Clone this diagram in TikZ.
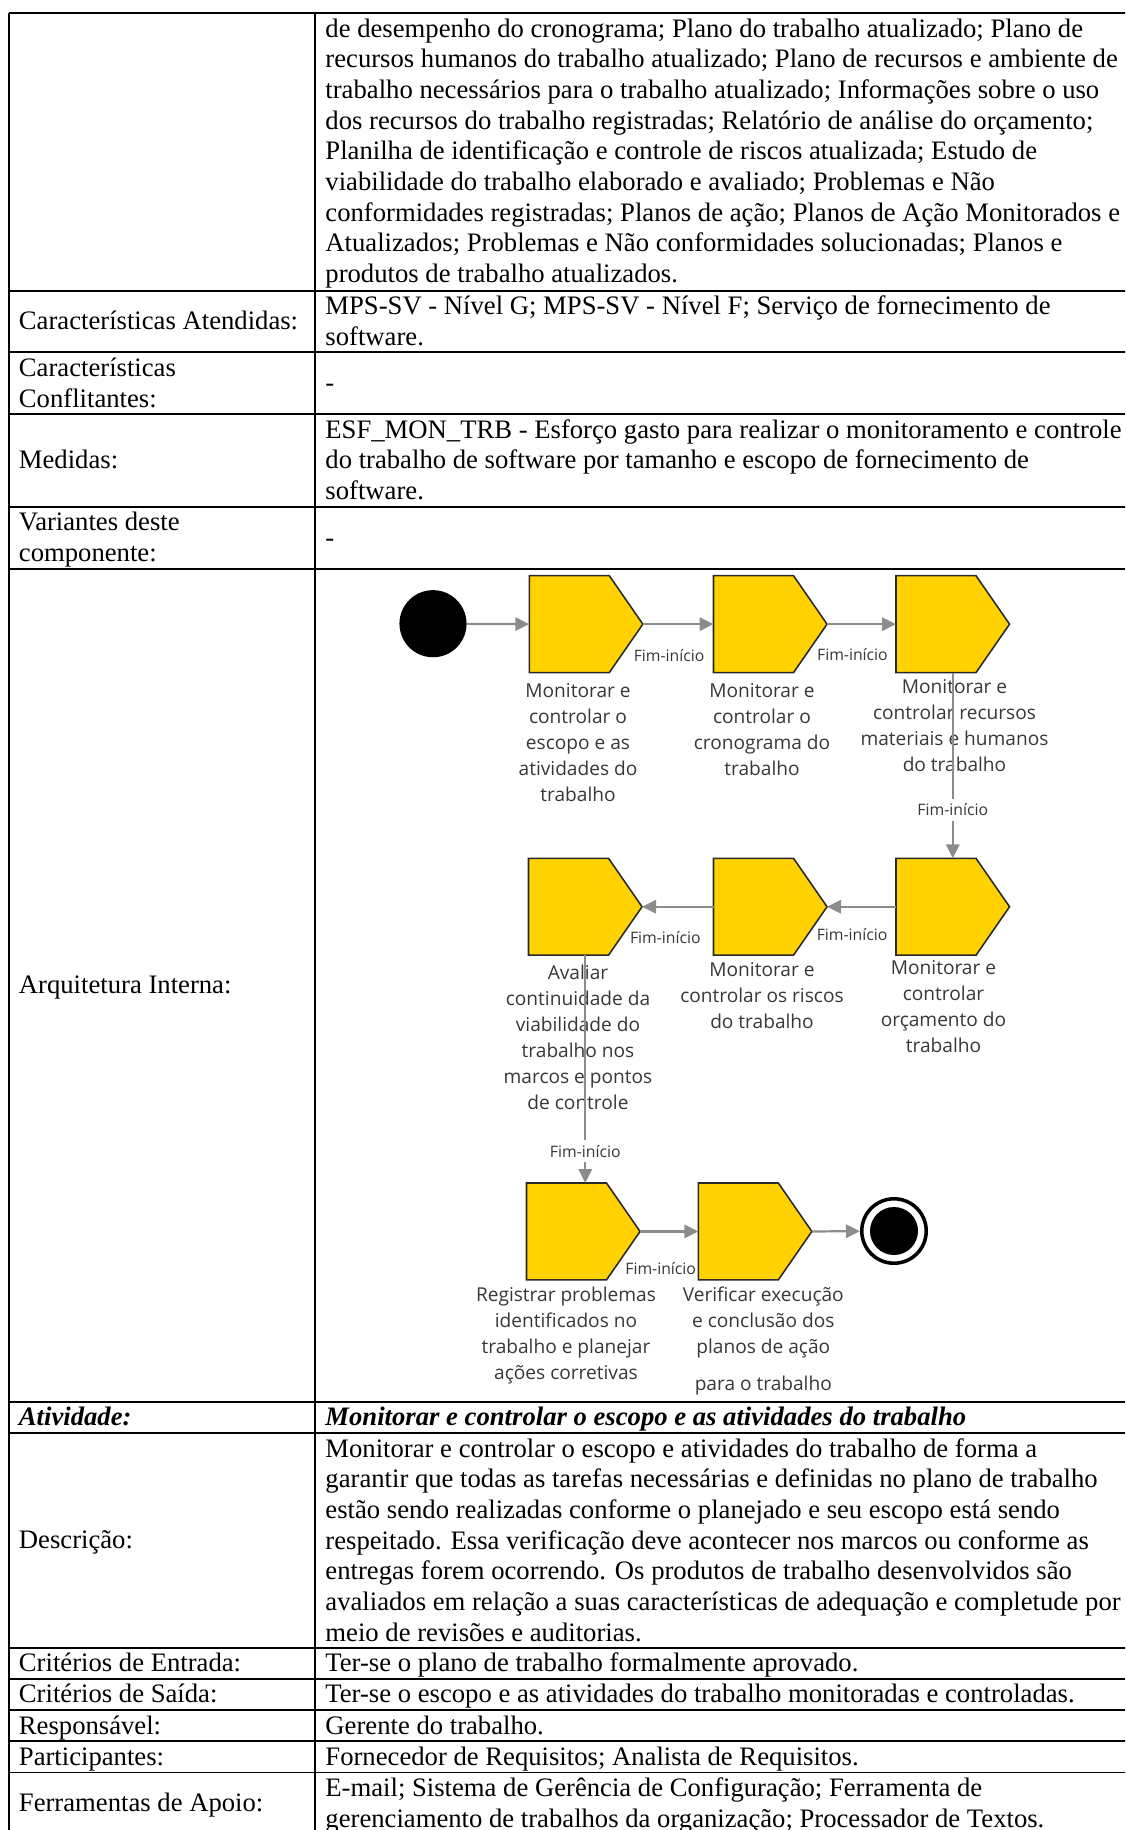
\documentclass[tikz,border=0pt]{standalone}
\usepackage{fontspec}
\setmainfont{Liberation Serif}
\newfontfamily\diagfont{Open Sans}
\usetikzlibrary{arrows.meta,calc}
\definecolor{actyellow}{RGB}{255,210,0}
\definecolor{actedge}{RGB}{40,40,40}
\definecolor{flowgray}{RGB}{140,140,140}
\definecolor{lbltext}{RGB}{55,55,55}

% activity pentagon: name, left x, top y (in px units of the picture)
\newcommand\activity[3]{%
  \node[actbox, anchor=north west] (#1) at (#2,#3) {};
  \path[actshape] (#1.north west) -- ($(#1.north west)+(80,0)$) -- (#1.east)
    -- ($(#1.south west)+(80,0)$) -- (#1.south west) -- cycle;
}
\newcommand\lines[1]{\begin{tabular}[t]{@{}c@{}}#1\end{tabular}}

\begin{document}
\begin{tikzpicture}[x=0.45pt,y=-0.45pt,
  cell/.style={anchor=base west, inner sep=0pt, font=\fontsize{12pt}{13.8pt}\selectfont},
  cellbi/.style={cell, font=\fontsize{12pt}{13.8pt}\selectfont\bfseries\itshape},
  rule/.style={line width=0.8pt},
  actbox/.style={rectangle, inner sep=0pt, minimum width=50.7pt, minimum height=43.2pt},
  actshape/.style={fill=actyellow, draw=actedge, line width=0.7pt, line join=miter},
  acttext/.style={anchor=base, inner sep=0pt, text=lbltext, font=\diagfont\fontsize{8.6pt}{11.7pt}\selectfont},
  flow/.style={draw=flowgray, line width=1pt, -{Triangle[length=6.3pt,width=6pt]}},
  fim/.style={inner sep=0pt, text=lbltext, font=\diagfont\fontsize{7.1pt}{8pt}\selectfont},
  fimv/.style={fim, fill=white, inner xsep=1pt, inner ysep=2.2pt},
  startnode/.style={circle, fill=black, inner sep=0pt, minimum size=30.2pt},
  endring/.style={circle, draw=black, line width=1.6pt, fill=white, inner sep=0pt, minimum size=29pt},
  enddot/.style={circle, fill=black, inner sep=0pt, minimum size=21.6pt}
]
\useasboundingbox (0,0) rectangle (1125,1830);
\clip (0,0) rectangle (1125,1830);

% ---------- table rules ----------
\foreach \yy in {13.3,290.7,352.3,414.3,506.7,568.7,1401.7,1433,1647.8,1678.8,1710,1741.2,1772.5}
  \draw[rule] (9.3,\yy) -- (1140,\yy);
\draw[rule] (9.3,13.3) -- (9.3,1840);
\draw[rule] (315.3,13.3) -- (315.3,1840);

% ---------- left column ----------
\node[cell] (lAtend) at (18.5,329.9) {Características Atendidas:};
\node[cell] (lConf1) at (18.5,376.3) {Características};
\node[cell] (lConf2) at (18.5,407) {Conflitantes:};
\node[cell] (lMed) at (18.5,468.8) {Medidas:};
\node[cell] (lVar1) at (18.5,530.4) {Variantes deste};
\node[cell] (lVar2) at (18.5,561.1) {componente:};
\node[cell] (lArq) at (18.5,993.5) {Arquitetura Interna:};
\node[cellbi] (lAtiv) at (18.5,1425.7) {Atividade:};
\node[cell] (lDesc) at (18.5,1548.8) {Descrição:};
\node[cell] (lEnt) at (18.5,1671.8) {Critérios de Entrada:};
\node[cell] (lSai) at (18.5,1702.8) {Critérios de Saída:};
\node[cell] (lResp) at (18.5,1734) {Responsável:};
\node[cell] (lPart) at (18.5,1765.2) {Participantes:};
\node[cell] (lFer) at (18.5,1811.6) {Ferramentas de Apoio:};

% ---------- right column ----------
\node[cell] (r1) at (325,37.0) {de desempenho do cronograma; Plano do trabalho atualizado; Plano de};
\node[cell] (r2) at (325,67.7) {recursos humanos do trabalho atualizado; Plano de recursos e ambiente de};
\node[cell] (r3) at (325,98.4) {trabalho necessários para o trabalho atualizado; Informações sobre o uso};
\node[cell] (r4) at (325,129.1) {dos recursos do trabalho registradas; Relatório de análise do orçamento;};
\node[cell] (r5) at (325,159.8) {Planilha de identificação e controle de riscos atualizada; Estudo de};
\node[cell] (r6) at (325,190.5) {viabilidade do trabalho elaborado e avaliado; Problemas e Não};
\node[cell] (r7) at (325,221.2) {conformidades registradas; Planos de ação; Planos de Ação Monitorados e};
\node[cell] (r8) at (325,251.9) {Atualizados; Problemas e Não conformidades solucionadas; Planos e};
\node[cell] (r9) at (325,282.6) {produtos de trabalho atualizados.};

\node[cell] (rAt1) at (325,314.4) {MPS-SV - Nível G; MPS-SV - Nível F; Serviço de fornecimento de};
\node[cell] (rAt2) at (325,345.1) {software.};
\node[cell] (rConf) at (325,391.7) {-};
\node[cell] (rMed1) at (325,438) {ESF\_MON\_TRB - Esforço gasto para realizar o monitoramento e controle};
\node[cell] (rMed2) at (325,468.7) {do trabalho de software por tamanho e escopo de fornecimento de};
\node[cell] (rMed3) at (325,499.4) {software.};
\node[cell] (rVar) at (325,546) {-};

\node[cellbi] (rAtiv) at (325,1425.7) {Monitorar e controlar o escopo e as atividades do trabalho};
\node[cell] (rD1) at (325,1457) {Monitorar e controlar o escopo e atividades do trabalho de forma a};
\node[cell] (rD2) at (325,1487.7) {garantir que todas as tarefas necessárias e definidas no plano de trabalho};
\node[cell] (rD3) at (325,1518.4) {estão sendo realizadas conforme o planejado e seu escopo está sendo};
\node[cell] (rD4) at (325,1549.1) {respeitado. Essa verificação deve acontecer nos marcos ou conforme as};
\node[cell] (rD5) at (325,1579.8) {entregas forem ocorrendo. Os produtos de trabalho desenvolvidos são};
\node[cell] (rD6) at (325,1610.5) {avaliados em relação a suas características de adequação e completude por};
\node[cell] (rD7) at (325,1641.2) {meio de revisões e auditorias.};
\node[cell] (rEnt) at (325,1671.8) {Ter-se o plano de trabalho formalmente aprovado.};
\node[cell] (rSai) at (325,1702.8) {Ter-se o escopo e as atividades do trabalho monitoradas e controladas.};
\node[cell] (rResp) at (325,1734) {Gerente do trabalho.};
\node[cell] (rPart) at (325,1765.2) {Fornecedor de Requisitos; Analista de Requisitos.};
\node[cell] (rFer1) at (325,1796.5) {E-mail; Sistema de Gerência de Configuração; Ferramenta de};
\node[cell] (rFer2) at (325,1827.2) {gerenciamento de trabalhos da organização; Processador de Textos.};

% ---------- process diagram: activity captions ----------
\node[acttext] (t1) at (578,697.3) {\lines{Monitorar e\\controlar o\\escopo e as\\atividades do\\trabalho}};
\node[acttext] (t2) at (762,697.3) {\lines{Monitorar e\\controlar o\\cronograma do\\trabalho}};
\node[acttext] (t3) at (954.5,693.3) {\lines{Monitorar e\\controlar recursos\\materiais e humanos\\do trabalho}};
\node[acttext] (t4) at (578,979) {\lines{Avaliar\\continuidade da\\viabilidade do\\trabalho nos\\marcos e pontos\\de controle}};
\node[acttext] (t5) at (762,976.7) {\lines{Monitorar e\\controlar os riscos\\do trabalho}};
\node[acttext] (t6) at (943.5,974.5) {\lines{Monitorar e\\controlar\\orçamento do\\trabalho}};
\node[acttext] (t7) at (566,1301.7) {\lines{Registrar problemas\\identificados no\\trabalho e planejar\\ações corretivas}};
\node[acttext] (t8) at (763.3,1301.7) {\lines{Verificar execução\\e conclusão dos\\planos de ação\\[4.8pt]para o trabalho}};

% ---------- process diagram: activities and events ----------
\node[startnode] (start) at (433,623.7) {};
\activity{a1}{529.3}{575.7}
\activity{a2}{713.5}{575.7}
\activity{a3}{896}{575.7}
\activity{a4}{528.5}{858.3}
\activity{a5}{713.5}{858.3}
\activity{a6}{896}{858.3}
\activity{a7}{526.5}{1183}
\activity{a8}{698.3}{1183}
\node[endring] (finish) at (894,1231) {};
\node[enddot] (finishdot) at (finish.center) {};

% ---------- process diagram: transitions ----------
\draw[flow] (start) -- (a1.west);
\draw[flow] (a1.east) -- node[fim, pos=0, anchor=base west, xshift=-4.6pt, yshift=-16.6pt] {Fim-início} (a2.west);
\draw[flow] (a2.east) -- node[fim, pos=0, anchor=base west, xshift=-4.95pt, yshift=-16.4pt] {Fim-início} (a3.west);
\draw[flow] (a3.south) -- node[fimv, pos=0.74] {Fim-início} (a6.north);
\draw[flow] (a6.west) -- node[fim, pos=1, anchor=base west, xshift=-5.1pt, yshift=-15pt] {Fim-início} (a5.east);
\draw[flow] (a5.west) -- node[fim, pos=1, anchor=base west, xshift=-5.9pt, yshift=-16.6pt] {Fim-início} (a4.east);
\draw[flow] (a4.south) -- node[fimv, pos=0.86] {Fim-início} (a4.south |- a7.north);
\draw[flow] (a7.east) -- node[fim, pos=0, anchor=base west, xshift=-7.1pt, yshift=-19.2pt] {Fim-início} (a8.west);
\draw[flow] (a8.east) -- (finish);
\end{tikzpicture}
\end{document}
